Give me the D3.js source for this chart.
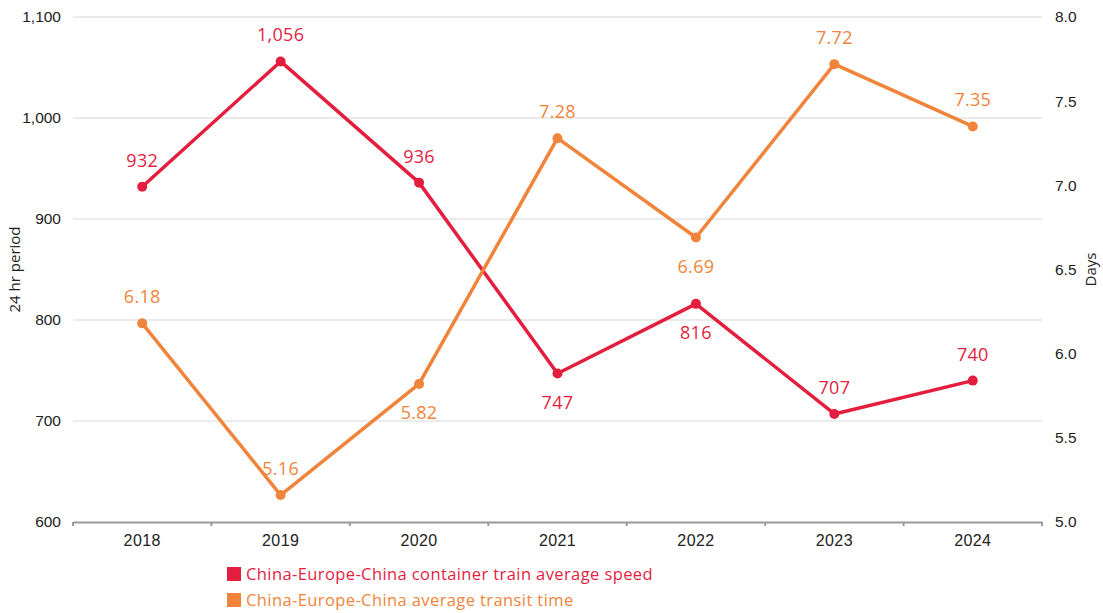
<!DOCTYPE html>
<html lang="en">
<head>
<meta charset="UTF-8">
<title>China-Europe-China train speed</title>
<script src="https://d3js.org/d3.v7.min.js"></script>
<style>
  body { margin: 0; background: #fff; font-family: "Open Sans", "DejaVu Sans", sans-serif; }
  .grid line { stroke: #ebebeb; stroke-width: 2; }
  .tick text { fill: #222; }
</style>
</head>
<body>
<div id="chart"></div>
<script>
var years = ["2018", "2019", "2020", "2021", "2022", "2023", "2024"];
var speed = [932, 1056, 936, 747, 816, 707, 740];
var transit = [6.18, 5.16, 5.82, 7.28, 6.69, 7.72, 7.35];
// label placement: 1 = above the point, -1 = below
var speedPos = [1, 1, 1, -1, -1, 1, 1];
var transitPos = [1, 1, -1, 1, -1, 1, 1];
var leftTicks = [600, 700, 800, 900, 1000, 1100];
var rightTicks = [5.0, 5.5, 6.0, 6.5, 7.0, 7.5, 8.0];
var seriesNames = ["China-Europe-China container train average speed", "China-Europe-China average transit time"];

var red = "#e41e3f", orange = "#f0843a";

var W = 1103, H = 613;
var margin = {top: 17, right: 61, bottom: 91, left: 73};
var width = W - margin.left - margin.right,
    height = H - margin.top - margin.bottom;

var svg = d3.select("#chart").append("svg")
    .attr("width", W).attr("height", H);
var g = svg.append("g")
    .attr("transform", "translate(" + margin.left + "," + margin.top + ")");

var x = d3.scaleBand().domain(years).range([0, width]);
var yL = d3.scaleLinear().domain([600, 1100]).range([height, 0]);
var yR = d3.scaleLinear().domain([5, 8]).range([height, 0]);
var cx = function(d, i) { return x(years[i]) + x.bandwidth() / 2; };

// grid
g.append("g").attr("class", "grid")
  .selectAll("line").data(leftTicks.slice(1)).enter().append("line")
    .attr("x1", 0).attr("x2", width)
    .attr("y1", function(d) { return yL(d); })
    .attr("y2", function(d) { return yL(d); });

// left axis
var la = g.append("g")
    .call(d3.axisLeft(yL).tickValues(leftTicks).tickSize(0).tickPadding(12).tickFormat(d3.format(",")));
la.select(".domain").remove();
la.selectAll("text").style("font-size", "15.5px");

// right axis
var ra = g.append("g").attr("transform", "translate(" + width + ",0)")
    .call(d3.axisRight(yR).tickValues(rightTicks).tickSize(0).tickPadding(13).tickFormat(d3.format(".1f")));
ra.select(".domain").remove();
ra.selectAll("text").style("font-size", "15.5px");

// x axis
var xa = g.append("g").attr("transform", "translate(0," + height + ")")
    .call(d3.axisBottom(x).tickSize(0).tickPadding(13));
xa.select(".domain").attr("stroke", "#9a9a9a").attr("stroke-width", 2);
xa.selectAll("text").style("font-size", "16px").style("letter-spacing", "0.4px");
// band boundary ticks
xa.selectAll(".bt").data(d3.range(years.length + 1)).enter().append("line")
    .attr("class", "bt")
    .attr("x1", function(i) { return i * x.step(); })
    .attr("x2", function(i) { return i * x.step(); })
    .attr("y1", 0).attr("y2", 4)
    .attr("stroke", "#9a9a9a").attr("stroke-width", 2);

// axis titles
svg.append("text")
    .attr("transform", "translate(20," + (margin.top + height / 2) + ") rotate(-90)")
    .attr("text-anchor", "middle")
    .style("font-size", "15px").attr("fill", "#222")
    .text("24 hr period");
svg.append("text")
    .attr("transform", "translate(1096," + (margin.top + height / 2) + ") rotate(-90)")
    .attr("text-anchor", "middle")
    .style("font-size", "15px").attr("fill", "#222")
    .text("Days");

function drawSeries(vals, y, color, pos, fmt) {
  var line = d3.line().x(cx).y(function(d) { return y(d); });
  g.append("path").datum(vals)
      .attr("d", line)
      .attr("fill", "none")
      .attr("stroke", color)
      .attr("stroke-width", 3.5)
      .attr("stroke-linejoin", "round");
  g.selectAll(null).data(vals).enter().append("circle")
      .attr("cx", cx)
      .attr("cy", function(d) { return y(d); })
      .attr("r", 5)
      .attr("fill", color);
  g.selectAll(null).data(vals).enter().append("text")
      .attr("x", cx)
      .attr("y", function(d, i) { return y(d) + (pos[i] > 0 ? -20 : 35); })
      .attr("text-anchor", "middle")
      .style("font-size", "18px")
      .style("letter-spacing", "0.3px")
      .attr("fill", color)
      .text(fmt);
}
drawSeries(speed, yL, red, speedPos, d3.format(","));
drawSeries(transit, yR, orange, transitPos, d3.format(".2f"));

// legend
var legend = svg.selectAll(".legend").data(seriesNames).enter().append("g")
    .attr("class", "legend")
    .attr("transform", function(d, i) { return "translate(227," + (567 + i * 26) + ")"; });
legend.append("rect")
    .attr("width", 14).attr("height", 14)
    .attr("fill", function(d, i) { return i === 0 ? red : orange; });
legend.append("text")
    .attr("x", 19).attr("y", 13)
    .style("font-size", "16.5px")
    .style("letter-spacing", "0.4px")
    .attr("fill", function(d, i) { return i === 0 ? red : orange; })
    .text(function(d) { return d; });
</script>
</body>
</html>
